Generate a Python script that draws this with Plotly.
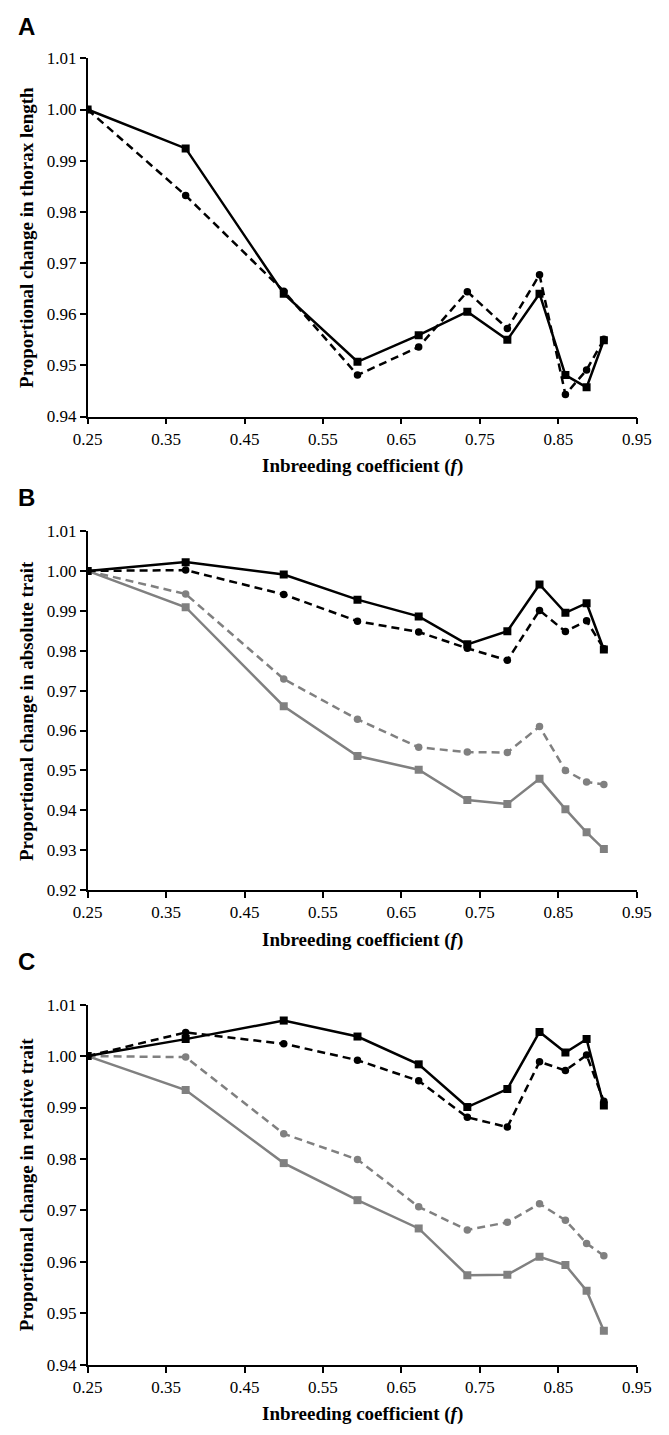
import plotly.graph_objects as go

# ---------------- data ----------------
f_values = [0.25, 0.375, 0.5, 0.594, 0.672, 0.734, 0.785, 0.826, 0.859, 0.886, 0.908]

# Panel A: thorax length
thorax_solid = [1.000, 0.9924, 0.9640, 0.9507, 0.9559, 0.9605, 0.9550, 0.9640, 0.9481, 0.9457, 0.9549]
thorax_dashed = [1.000, 0.9832, 0.9645, 0.9481, 0.9536, 0.9644, 0.9572, 0.9677, 0.9443, 0.9491, 0.9551]

# Panel B: absolute trait
abs_black_solid = [1.000, 1.0022, 0.9991, 0.9928, 0.9886, 0.9816, 0.9849, 0.9966, 0.9895, 0.9919, 0.9803]
abs_black_dashed = [1.000, 1.0002, 0.9941, 0.9874, 0.9847, 0.9806, 0.9776, 0.9901, 0.9848, 0.9875, 0.9805]
abs_gray_dashed = [1.000, 0.9942, 0.9729, 0.9628, 0.9558, 0.9546, 0.9545, 0.9610, 0.9500, 0.9471, 0.9465]
abs_gray_solid = [1.000, 0.9909, 0.9661, 0.9536, 0.9502, 0.9426, 0.9416, 0.9479, 0.9403, 0.9345, 0.9303]

# Panel C: relative trait
rel_black_solid = [1.000, 1.0033, 1.0069, 1.0038, 0.9984, 0.9901, 0.9936, 1.0047, 1.0007, 1.0033, 0.9904]
rel_black_dashed = [1.000, 1.0046, 1.0024, 0.9992, 0.9952, 0.9881, 0.9862, 0.9989, 0.9972, 1.0002, 0.9912]
rel_gray_dashed = [1.000, 0.9998, 0.9849, 0.9799, 0.9707, 0.9662, 0.9677, 0.9713, 0.9681, 0.9636, 0.9612]
rel_gray_solid = [1.000, 0.9934, 0.9792, 0.9720, 0.9665, 0.9574, 0.9575, 0.9610, 0.9594, 0.9544, 0.9466]

panel_letters = ["A", "B", "C"]
y_titles = ["Proportional change in thorax length",
            "Proportional change in absolute trait",
            "Proportional change in relative trait"]
x_title = "Inbreeding coefficient (<i>f</i>)"
y_ranges = [[0.94, 1.01], [0.92, 1.01], [0.94, 1.01]]

# ---------------- layout geometry ----------------
W, H = 669, 1435
BLACK = "#000000"
GRAY = "#808080"
x_left, x_right = 76, 651
panels_px = [(50, 413), (529, 893), (1009, 1374)]  # (top, bottom) in px
letters_y = [18, 495, 965]

def py(v):
    return 1 - v / H

def px(v):
    return v / W

fig = go.Figure()

series = [
    [(thorax_dashed, BLACK, "8px,5px", "circle"), (thorax_solid, BLACK, "solid", "square")],
    [(abs_gray_solid, GRAY, "solid", "square"), (abs_gray_dashed, GRAY, "8px,5px", "circle"),
     (abs_black_dashed, BLACK, "8px,5px", "circle"), (abs_black_solid, BLACK, "solid", "square")],
    [(rel_gray_solid, GRAY, "solid", "square"), (rel_gray_dashed, GRAY, "8px,5px", "circle"),
     (rel_black_dashed, BLACK, "8px,5px", "circle"), (rel_black_solid, BLACK, "solid", "square")],
]

annotations = []
layout_axes = {}
for i, (top, bot) in enumerate(panels_px):
    n = "" if i == 0 else str(i + 1)
    for vals, col, dash, sym in series[i]:
        fig.add_trace(go.Scatter(
            x=f_values, y=vals, mode="lines+markers",
            xaxis="x" + n, yaxis="y" + n,
            line=dict(color=col, width=2.5, dash=dash),
            marker=dict(symbol=sym, size=8 if sym == "square" else 7.5, color=col),
            showlegend=False, hoverinfo="skip"))
    layout_axes["xaxis" + n] = dict(
        domain=[px(x_left), px(x_right)], anchor="y" + n,
        range=[0.25, 0.95], tick0=0.25, dtick=0.1, tickformat=".2f",
        showline=True, linecolor=BLACK, linewidth=1.5, ticks="outside",
        ticklen=6, tickwidth=1.5, tickcolor=BLACK, showgrid=False, zeroline=False,
        tickfont=dict(family="Liberation Serif", size=17, color=BLACK), fixedrange=True)
    layout_axes["yaxis" + n] = dict(
        domain=[py(bot), py(top)], anchor="x" + n,
        range=y_ranges[i], dtick=0.01, tickformat=".2f",
        showline=True, linecolor=BLACK, linewidth=1.5, ticks="outside",
        ticklen=6, tickwidth=1.5, tickcolor=BLACK, showgrid=False, zeroline=False,
        tickfont=dict(family="Liberation Serif", size=17, color=BLACK), fixedrange=True)
    # x title
    annotations.append(dict(text="<b>" + x_title + "</b>", xref="paper", yref="paper",
                            x=px((x_left + x_right) / 2), y=py(bot + 50),
                            xanchor="center", yanchor="middle", showarrow=False,
                            font=dict(family="Liberation Serif", size=19, color=BLACK)))
    # y title
    annotations.append(dict(text="<b>" + y_titles[i] + "</b>", xref="paper", yref="paper",
                            x=px(12), y=py((top + bot) / 2), textangle=-90,
                            xanchor="center", yanchor="middle", showarrow=False,
                            font=dict(family="Liberation Serif", size=19, color=BLACK)))
    # panel letter
    annotations.append(dict(text="<b>" + panel_letters[i] + "</b>", xref="paper", yref="paper",
                            x=px(1), y=py(letters_y[i]), xanchor="left", yanchor="middle",
                            showarrow=False,
                            font=dict(family="Liberation Sans", size=24, color=BLACK)))

fig.update_layout(
    width=W, height=H,
    margin=dict(l=0, r=0, t=0, b=0),
    paper_bgcolor="white", plot_bgcolor="white",
    annotations=annotations,
    **layout_axes)

fig.write_html("out.html", config={"displayModeBar": False},
               post_script="document.body.style.margin='0';document.body.style.overflow='hidden';")
